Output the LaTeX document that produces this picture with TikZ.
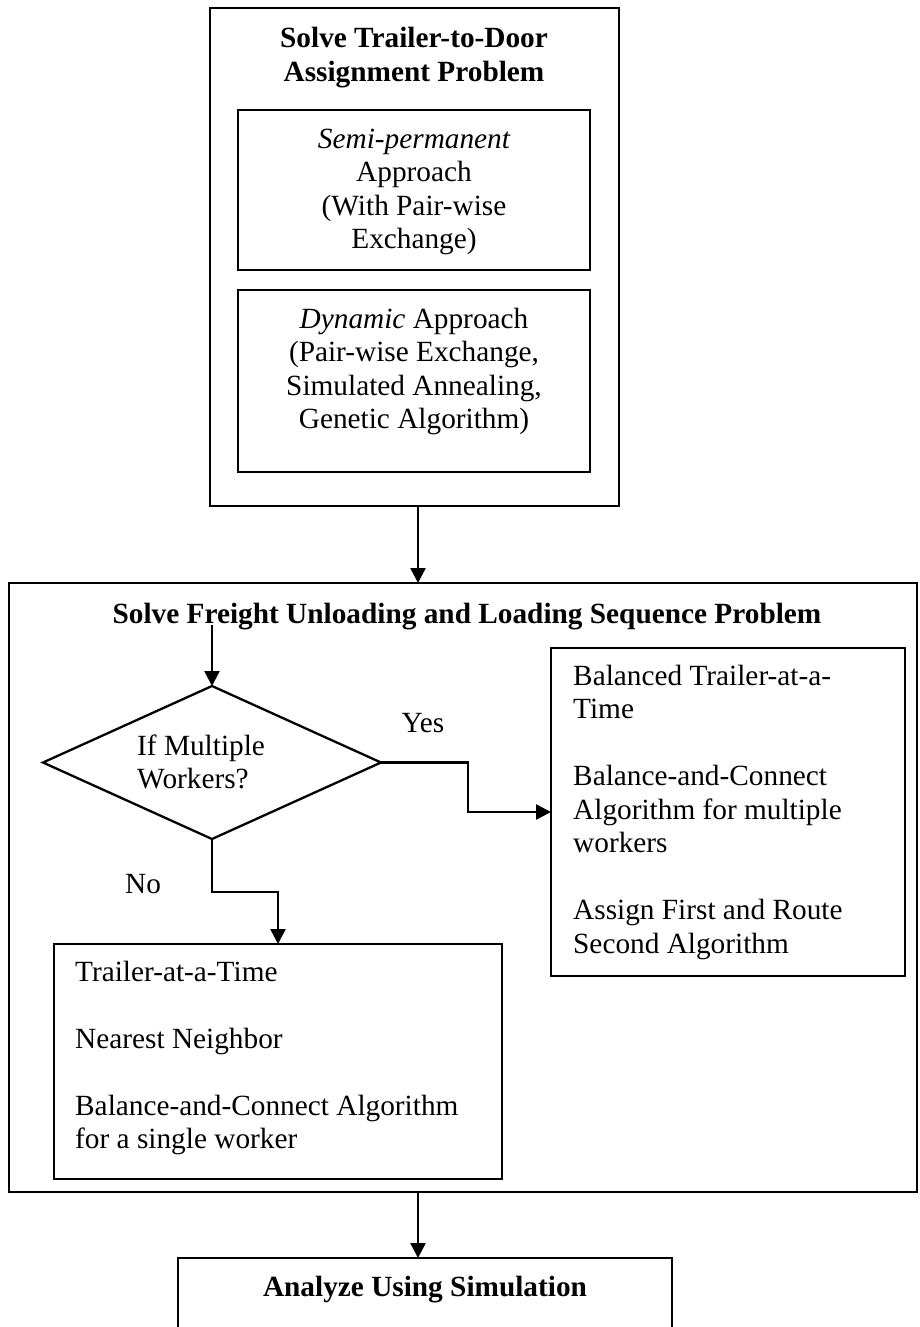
\documentclass[tikz,border=0pt]{standalone}
\usepackage{fontspec}
\setmainfont{Liberation Serif}
\usetikzlibrary{arrows.meta,shapes.geometric}
\begin{document}
\begin{tikzpicture}[x=1pt,y=-1pt,
  box/.style={draw,line width=2.3pt,anchor=north west,inner sep=0pt,outer sep=0pt},
  txt/.style={font=\fontsize{29.3pt}{33.5pt}\selectfont,inner sep=0pt},
  bold/.style={font=\fontsize{29.3pt}{33.5pt}\selectfont\bfseries,inner sep=0pt},
  arr/.style={line width=2.5pt,-{Triangle[width=15pt,length=15pt]}},
]
\useasboundingbox (0,0) rectangle (919,1327);
\clip (0,0) rectangle (919,1327);

% stage 1: trailer-to-door assignment
% (multi-line texts are placed by the baseline of their last line)
\node[box,minimum width=409pt,minimum height=498pt] (T) at (210,8) {};
\node[bold,align=center,anchor=base] (Ttitle) at (414,81.5) {Solve Trailer-to-Door\\Assignment Problem};
\node[box,minimum width=352pt,minimum height=160pt] (S) at (238,110) {};
\node[txt,align=center,anchor=base] (Stext) at (414,248.5) {\itshape Semi-permanent\\Approach\\(With Pair-wise\\Exchange)};
\node[box,minimum width=352pt,minimum height=182pt] (Dy) at (238,290) {};
\node[txt,align=center,anchor=base] (Dytext) at (414,428.5) {{\itshape Dynamic} Approach\\(Pair-wise Exchange,\\Simulated Annealing,\\Genetic Algorithm)};

% stage 2: freight unloading and loading sequence
\node[box,minimum width=908pt,minimum height=609pt] (B) at (9,583) {};
\node[bold,anchor=base] (Btitle) at (467,623) {Solve Freight Unloading and Loading Sequence Problem};
\coordinate (Bin) at (212,625);
\node[draw,diamond,line width=2.3pt,inner sep=0pt,outer sep=0pt,minimum width=338pt,minimum height=153pt] (D) at (212,762.5) {};
\node[txt,align=left,anchor=base west] (Dtext) at (137,788.5) {If Multiple\\Workers?};
\node[txt,anchor=base] (yes) at (423,732) {Yes};
\node[txt,anchor=base] (no) at (143,893) {No};

\node[box,minimum width=354pt,minimum height=328pt] (R) at (551,648) {};
\node[txt,align=left,anchor=base west] (Rtext) at (573,953) {Balanced Trailer-at-a-\\Time\\[33.5pt]Balance-and-Connect\\Algorithm for multiple\\workers\\[33.5pt]Assign First and Route\\Second Algorithm};

\node[box,minimum width=448pt,minimum height=235pt] (L) at (54,944) {};
\node[txt,align=left,anchor=base west] (Ltext) at (75,1148.5) {Trailer-at-a-Time\\[33.5pt]Nearest Neighbor\\[33.5pt]Balance-and-Connect Algorithm\\for a single worker};

% stage 3: simulation
\node[box,minimum width=494pt,minimum height=100pt] (A) at (178,1258) {};
\node[bold,anchor=base] (Atitle) at (425,1296) {Analyze Using Simulation};

% connectors
\draw[arr] ([xshift=3.5pt]T.south) -- ([xshift=3.5pt]T.south |- B.north);
\draw[arr] (Bin) -- (D.north);
\draw[arr] (D.east) -- ++(87,0) |- (R.west);
\draw[arr] (D.south) -- ++(0,53) -| (L.north);
\draw[arr] ([xshift=-45pt]B.south) -- ([xshift=-45pt]B.south |- A.north);
\end{tikzpicture}
\end{document}
